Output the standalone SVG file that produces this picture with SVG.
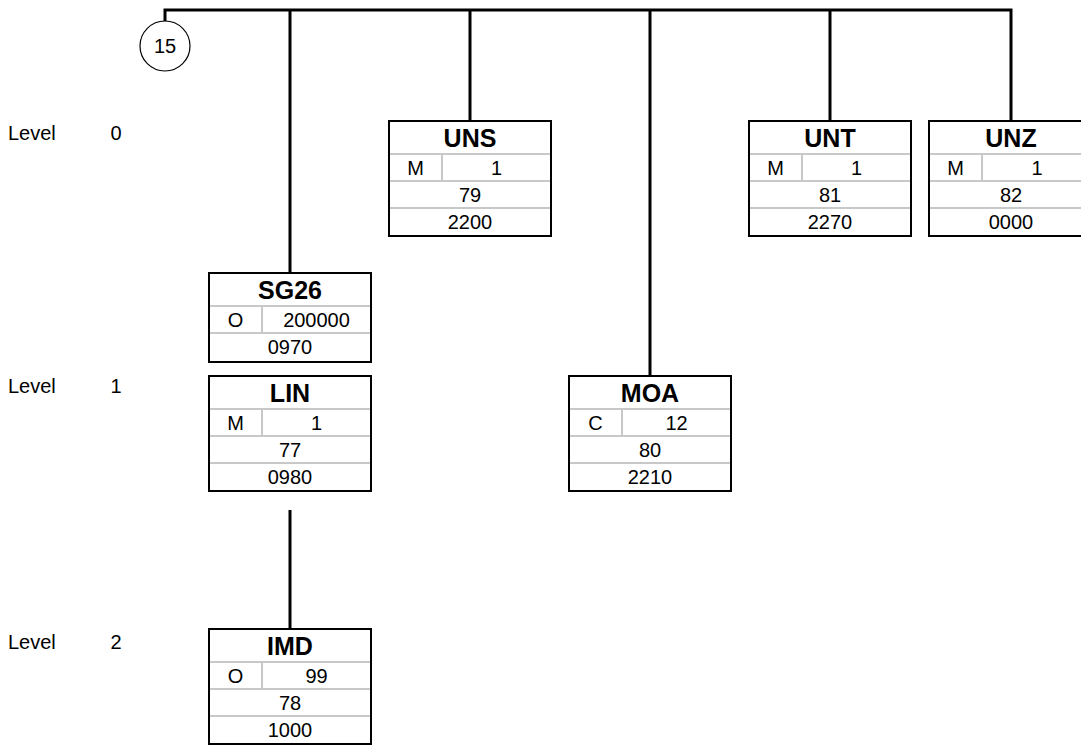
<svg xmlns="http://www.w3.org/2000/svg" width="1081" height="747" viewBox="0 0 1081 747">
<style>
.bg{fill:#ffffff}
.conn{stroke:#000;stroke-width:3;fill:none}
.box{fill:#fff;stroke:#000;stroke-width:2}
.sep{stroke:#c8c8c8;stroke-width:2}
.t{font-family:"Liberation Sans",Arial,sans-serif;font-size:20px;fill:#000;text-anchor:middle}
.b{font-family:"Liberation Sans",Arial,sans-serif;font-size:25px;font-weight:bold;fill:#000;text-anchor:middle}
.l{font-family:"Liberation Sans",Arial,sans-serif;font-size:20px;fill:#000}
.circ{fill:#fff;stroke:#000;stroke-width:1.2}
</style>
<rect class="bg" x="0" y="0" width="1081" height="747"/>
<g id="levels">
<text class="l" x="8" y="140">Level</text><text class="t" x="116" y="140">0</text>
<text class="l" x="8" y="393">Level</text><text class="t" x="116" y="393">1</text>
<text class="l" x="8" y="649">Level</text><text class="t" x="116" y="649">2</text>
</g>
<g id="connectors">
<path class="conn" d="M165,22 V10 H1011 V121"/>
<path class="conn" d="M290,10 V273"/>
<path class="conn" d="M470,10 V121"/>
<path class="conn" d="M650,10 V376"/>
<path class="conn" d="M830,10 V121"/>
<path class="conn" d="M290,510 V629"/>
</g>
<g id="n15">
<circle class="circ" cx="165" cy="46" r="25"/>
<text class="t" x="165" y="53">15</text>
</g>
<g id="UNS">
<rect class="box" x="389" y="121" width="162" height="115"/>
<line class="sep" x1="390" y1="154" x2="550" y2="154"/><line class="sep" x1="390" y1="181" x2="550" y2="181"/><line class="sep" x1="390" y1="208" x2="550" y2="208"/><line class="sep" x1="442" y1="154" x2="442" y2="181"/>
<text class="b" x="470" y="147">UNS</text><text class="t" x="415.5" y="175">M</text><text class="t" x="496.5" y="175">1</text><text class="t" x="470" y="202">79</text><text class="t" x="470" y="229">2200</text>
</g>
<g id="UNT">
<rect class="box" x="749" y="121" width="162" height="115"/>
<line class="sep" x1="750" y1="154" x2="910" y2="154"/><line class="sep" x1="750" y1="181" x2="910" y2="181"/><line class="sep" x1="750" y1="208" x2="910" y2="208"/><line class="sep" x1="802" y1="154" x2="802" y2="181"/>
<text class="b" x="830" y="147">UNT</text><text class="t" x="775.5" y="175">M</text><text class="t" x="856.5" y="175">1</text><text class="t" x="830" y="202">81</text><text class="t" x="830" y="229">2270</text>
</g>
<g id="UNZ">
<rect class="box" x="929" y="121" width="163" height="115"/>
<line class="sep" x1="930" y1="154" x2="1091" y2="154"/><line class="sep" x1="930" y1="181" x2="1091" y2="181"/><line class="sep" x1="930" y1="208" x2="1091" y2="208"/><line class="sep" x1="982" y1="154" x2="982" y2="181"/>
<text class="b" x="1011" y="147">UNZ</text><text class="t" x="955.5" y="175">M</text><text class="t" x="1037" y="175">1</text><text class="t" x="1011" y="202">82</text><text class="t" x="1011" y="229">0000</text>
</g>
<g id="SG26">
<rect class="box" x="209" y="273" width="162" height="89"/>
<line class="sep" x1="210" y1="306" x2="370" y2="306"/><line class="sep" x1="210" y1="333" x2="370" y2="333"/><line class="sep" x1="262" y1="306" x2="262" y2="333"/>
<text class="b" x="290" y="299">SG26</text><text class="t" x="235.5" y="327">O</text><text class="t" x="316.5" y="327">200000</text><text class="t" x="290" y="354">0970</text>
</g>
<g id="LIN">
<rect class="box" x="209" y="376" width="162" height="115"/>
<line class="sep" x1="210" y1="409" x2="370" y2="409"/><line class="sep" x1="210" y1="436" x2="370" y2="436"/><line class="sep" x1="210" y1="463" x2="370" y2="463"/><line class="sep" x1="262" y1="409" x2="262" y2="436"/>
<text class="b" x="290" y="402">LIN</text><text class="t" x="235.5" y="430">M</text><text class="t" x="316.5" y="430">1</text><text class="t" x="290" y="457">77</text><text class="t" x="290" y="484">0980</text>
</g>
<g id="MOA">
<rect class="box" x="569" y="376" width="162" height="115"/>
<line class="sep" x1="570" y1="409" x2="730" y2="409"/><line class="sep" x1="570" y1="436" x2="730" y2="436"/><line class="sep" x1="570" y1="463" x2="730" y2="463"/><line class="sep" x1="622" y1="409" x2="622" y2="436"/>
<text class="b" x="650" y="402">MOA</text><text class="t" x="595.5" y="430">C</text><text class="t" x="676.5" y="430">12</text><text class="t" x="650" y="457">80</text><text class="t" x="650" y="484">2210</text>
</g>
<g id="IMD">
<rect class="box" x="209" y="629" width="162" height="115"/>
<line class="sep" x1="210" y1="662" x2="370" y2="662"/><line class="sep" x1="210" y1="689" x2="370" y2="689"/><line class="sep" x1="210" y1="716" x2="370" y2="716"/><line class="sep" x1="262" y1="662" x2="262" y2="689"/>
<text class="b" x="290" y="655">IMD</text><text class="t" x="235.5" y="683">O</text><text class="t" x="316.5" y="683">99</text><text class="t" x="290" y="710">78</text><text class="t" x="290" y="737">1000</text>
</g>
</svg>
